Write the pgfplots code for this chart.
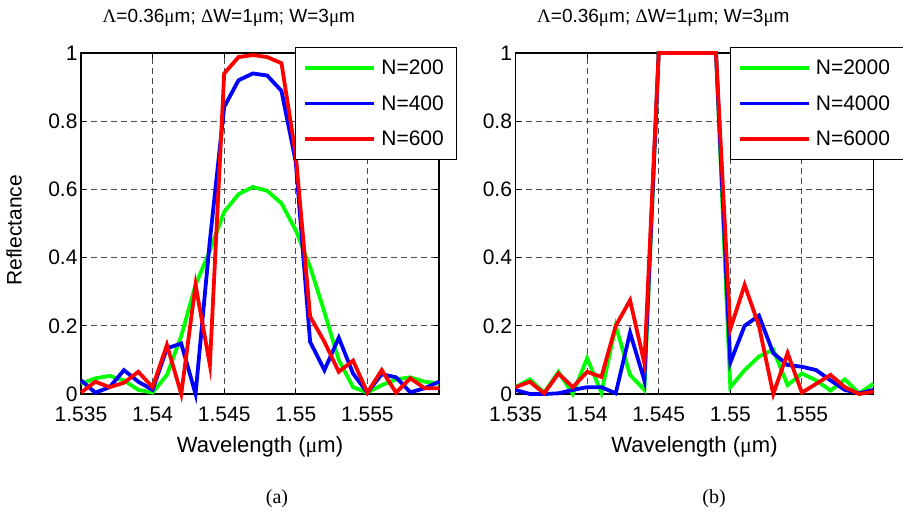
\documentclass[border=0pt]{standalone}
\usepackage{fontspec}
\setmainfont{Liberation Sans}
\newfontfamily\greek{Liberation Serif}
\usepackage{pgfplots}
\usepackage{pgfplotstable}
\pgfplotsset{compat=1.18}

\newcommand{\um}{{\greek μ}m}

% reflectance, grating length N (left panel)
\pgfplotstableread{
x     g     b     r
1.535 0.030 0.040 0.004
1.536 0.046 0.004 0.036
1.537 0.053 0.020 0.020
1.538 0.040 0.070 0.033
1.539 0.012 0.036 0.065
1.540 0.004 0.012 0.020
1.541 0.056 0.134 0.144
1.542 0.170 0.148 0.000
1.543 0.320 0.000 0.320
1.544 0.420 0.450 0.085
1.545 0.534 0.842 0.940
1.546 0.586 0.920 0.988
1.547 0.607 0.940 0.994
1.548 0.596 0.934 0.988
1.549 0.559 0.889 0.970
1.550 0.480 0.680 0.700
1.551 0.373 0.153 0.227
1.552 0.240 0.070 0.153
1.553 0.100 0.165 0.065
1.554 0.020 0.060 0.098
1.555 0.004 0.004 0.004
1.556 0.026 0.058 0.070
1.557 0.043 0.049 0.004
1.558 0.049 0.005 0.046
1.559 0.036 0.017 0.017
1.560 0.031 0.036 0.017
}\lefttable

% right panel
\pgfplotstableread{
x     g     b     r
1.535 0.020 0.012 0.020
1.536 0.043 0.000 0.036
1.537 0.004 0.000 0.002
1.538 0.065 0.002 0.060
1.539 0.000 0.012 0.020
1.540 0.105 0.020 0.065
1.541 0.004 0.020 0.050
1.542 0.200 0.002 0.200
1.543 0.056 0.180 0.275
1.544 0.012 0.040 0.090
1.545 1.000 1.000 1.000
1.546 1.000 1.000 1.000
1.547 1.000 1.000 1.000
1.548 1.000 1.000 1.000
1.549 1.000 1.000 1.000
1.550 0.020 0.092 0.190
1.551 0.070 0.200 0.320
1.552 0.110 0.230 0.200
1.553 0.130 0.120 0.000
1.554 0.026 0.085 0.120
1.555 0.060 0.080 0.004
1.556 0.040 0.070 0.030
1.557 0.010 0.040 0.056
1.558 0.043 0.012 0.020
1.559 0.002 0.002 0.000
1.560 0.030 0.012 0.007
}\righttable

\pgfplotsset{
  refl/.style={
    scale only axis, width=358pt, height=341pt, anchor=south west,
    xmin=1.535, xmax=1.56, ymin=0, ymax=1,
    xtick={1.535,1.54,1.545,1.55,1.555},
    xticklabels={1.535,1.54,1.545,1.55,1.555},
    ytick={0,0.2,0.4,0.6,0.8,1},
    yticklabels={0,0.2,0.4,0.6,0.8,1},
    tick align=inside, major tick length=5pt,
    tick style={black, line width=1pt},
    axis line style={line width=1.2pt},
    grid=major,
    major grid style={black!70, line width=1.1pt, dash pattern=on 6pt off 4pt},
    ticklabel style={font=\fontsize{21}{25}\selectfont},
    % small inner sep so the "0" and "1.535" boxes do not touch
    xticklabel style={inner ysep=1pt, yshift=-12pt},
    yticklabel style={inner ysep=1pt},
    title style={at={(axis description cs:0.413,1)}, anchor=base, yshift=24.4pt,
      font=\fontsize{19}{23}\selectfont},
    title={{\greek Λ}=0.36\um; {\greek Δ}W=1\um; W=3\um},
    xlabel style={at={(axis description cs:0.5,0)}, anchor=base, yshift=-58.5pt,
      font=\fontsize{22}{26}\selectfont},
    xlabel={Wavelength (\um)},
    legend style={at={(axis description cs:0.598,1.017)}, anchor=north west,
      draw=black, line width=1pt, fill=white, inner xsep=8pt, inner ysep=3pt,
      row sep=0pt, font=\fontsize{21}{25}\selectfont,
      nodes={inner xsep=5pt, inner ysep=9.5pt}},
    legend image code/.code={\draw[#1] (0pt,0pt) -- (69pt,0pt);},
    legend cell align=left,
    clip=false,
    every axis plot/.append style={line width=3.8pt},
  }
}

\begin{document}
\begin{tikzpicture}
\useasboundingbox (0,0) rectangle (903pt,512pt);

\begin{axis}[refl, at={(81pt,118pt)},
  ylabel={Reflectance},
  ylabel style={at={(axis description cs:-0.1656,0.48)}, anchor=base,
    font=\fontsize{21}{25}\selectfont}]
\addplot [green, mark=none] table [x=x, y=g] {\lefttable};
\addplot [blue, mark=none] table [x=x, y=b] {\lefttable};
\addplot [red, mark=none] table [x=x, y=r] {\lefttable};
\legend{N=200, N=400, N=600}
\end{axis}

\begin{axis}[refl, at={(515.5pt,118pt)}]
\addplot [green, mark=none] table [x=x, y=g] {\righttable};
\addplot [blue, mark=none] table [x=x, y=b] {\righttable};
\addplot [red, mark=none] table [x=x, y=r] {\righttable};
\legend{N=2000, N=4000, N=6000}
\end{axis}

\node [anchor=base, font=\greek\fontsize{20}{24}\selectfont] at (277pt,9pt) {(a)};
\node [anchor=base, font=\greek\fontsize{20}{24}\selectfont] at (714pt,9pt) {(b)};
\end{tikzpicture}
\end{document}
